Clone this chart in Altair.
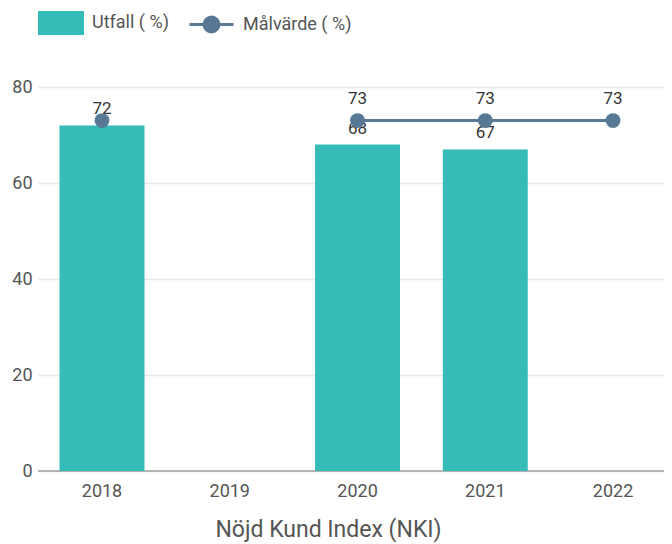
import altair as alt
import pandas as pd

years = ["2018", "2019", "2020", "2021", "2022"]
series = ["Utfall ( %)", "Målvärde ( %)"]
utfall = [72, None, 68, 67, None]
malvarde = [73, None, 73, 73, 73]
y_ticks = [0, 20, 40, 60, 80]
x_title = "Nöjd Kund Index (NKI)"

TEAL = "#35bcb8"
SLATE = "#587996"
FONT = "Roboto"
W = 626

rows = []
for i, yr in enumerate(years):
    rows.append({"year": yr, "series": series[0], "value": utfall[i]})
    rows.append({"year": yr, "series": series[1], "value": malvarde[i]})
df = pd.DataFrame(rows)

base = alt.Chart(df)

x_enc = alt.X(
    "year:N",
    sort=years,
    scale=alt.Scale(domain=years, paddingInner=0.335, paddingOuter=0.1175, align=0.717),
    axis=alt.Axis(
        title=x_title,
        labelAngle=0,
        labelFont=FONT,
        labelFontSize=18,
        labelColor="#555555",
        labelPadding=11,
        ticks=False,
        domain=False,
        titleFont=FONT,
        titleFontSize=23,
        titleFontWeight="normal",
        titleColor="#555555",
        titleX=290,
        titleY=58,
        titleBaseline="middle",
    ),
)
y_enc = alt.Y(
    "value:Q",
    scale=alt.Scale(domain=[0, 80], nice=False),
    axis=alt.Axis(
        title=None,
        values=y_ticks,
        labelFont=FONT,
        labelFontSize=18,
        labelColor="#555555",
        labelPadding=6,
        ticks=False,
        domain=False,
        gridColor="#e6e6e6",
        gridWidth=1.5,
    ),
)

common_legend = dict(
    title=None,
    orient="none",
    direction="horizontal",
    labelFont=FONT,
    labelFontSize=18,
    labelColor="#555555",
    labelOffset=8,
    symbolOpacity=1,
)

bar_color = alt.Color(
    "series:N",
    scale=alt.Scale(domain=[series[0]], range=[TEAL]),
    legend=alt.Legend(
        legendX=0,
        legendY=-87,
        symbolType="M-1,-0.52L1,-0.52L1,0.52L-1,0.52Z",
        symbolSize=2116,
        symbolStrokeWidth=0,
        symbolFillColor=TEAL,
        **common_legend,
    ),
)
line_color = alt.Color(
    "series:N",
    scale=alt.Scale(domain=[series[1]], range=[SLATE]),
    legend=alt.Legend(
        legendX=150,
        legendY=-86,
        symbolType="M-1,0L1,0M0.34,0A0.34,0.34,0,1,1,-0.34,0A0.34,0.34,0,1,1,0.34,0Z",
        symbolSize=1936,
        symbolStrokeWidth=3,
        symbolFillColor=SLATE,
        symbolStrokeColor=SLATE,
        **common_legend,
    ),
)

bars = base.transform_filter(alt.datum.series == series[0]).mark_bar().encode(
    x=x_enc, y=y_enc, color=bar_color
)
bar_labels = base.transform_filter(alt.datum.series == series[0]).mark_text(
    font=FONT, fontSize=17, color="#333333", baseline="middle", dy=-16
).encode(x="year:N", y="value:Q", text="value:Q")

line_base = base.transform_filter(alt.datum.series == series[1])
line = line_base.mark_line(strokeWidth=3, invalid="break-paths-show-domains").encode(
    x="year:N", y="value:Q", color=line_color
)
points = line_base.mark_point(filled=True, size=220, opacity=1).encode(
    x="year:N", y="value:Q", color=line_color
)
line_group = alt.layer(line, points)

line_labels = line_base.transform_filter(
    (alt.datum.year != years[0])
).mark_text(font=FONT, fontSize=17, color="#333333", baseline="middle", dy=-22).encode(
    x="year:N", y="value:Q", text="value:Q"
)

zero = alt.Chart(pd.DataFrame({"v": [0]})).mark_rule(color="#a0a0a0", strokeWidth=1.5).encode(
    y="v:Q", x=alt.value(0), x2=alt.value(W)
)

chart = alt.layer(zero, bars, bar_labels, line_group, line_labels).resolve_scale(
    color="independent"
).properties(
    width=W,
    height=384,
    autosize=alt.AutoSizeParams(type="none"),
    padding={"left": 30, "top": 79, "right": 0, "bottom": 72},
).configure_view(stroke=None)

chart.save("out.html", embed_options={"renderer": "svg", "actions": False})
